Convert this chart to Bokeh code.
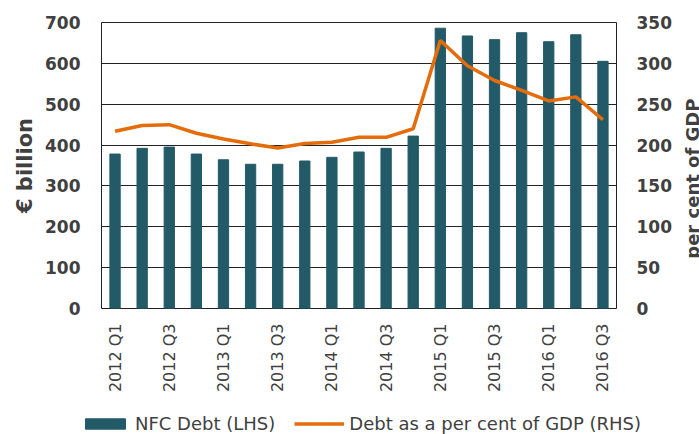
from bokeh.plotting import figure
from bokeh.layouts import row, column
from bokeh.models import Range1d, LinearAxis, Legend, LegendItem, FixedTicker, Label
from bokeh.embed import file_html
from bokeh.resources import INLINE

quarters = ["2012 Q1", "2012 Q2", "2012 Q3", "2012 Q4",
            "2013 Q1", "2013 Q2", "2013 Q3", "2013 Q4",
            "2014 Q1", "2014 Q2", "2014 Q3", "2014 Q4",
            "2015 Q1", "2015 Q2", "2015 Q3", "2015 Q4",
            "2016 Q1", "2016 Q2", "2016 Q3"]
nfc_debt = [378, 392, 395, 378, 364, 353, 353, 361, 370, 383, 392, 422,
            686, 667, 658, 675, 653, 670, 605]
debt_pct_gdp = [217, 224, 225, 214.5, 207.5, 201.5, 196.5, 202, 203.5, 209.5,
                209.5, 220, 328, 297, 279, 267, 254, 259, 231]
left_label = "€ billion"
right_label = "per cent of  GDP"
series_names = ["NFC Debt (LHS)", "Debt as a per cent of GDP (RHS)"]

x = list(range(len(quarters)))
FONT = "DejaVu Sans"
TXT = "#404040"
BAR = "#235A68"
LINE = "#E46C0A"


def style_axis(ax, size, bold, standoff):
    ax.major_label_text_font = FONT
    ax.major_label_text_font_size = size
    ax.major_label_text_font_style = "bold" if bold else "normal"
    ax.major_label_text_color = TXT
    ax.major_label_standoff = standoff
    ax.axis_line_color = None
    ax.major_tick_line_color = None
    ax.minor_tick_line_color = None
    ax.major_tick_out = 0
    ax.major_tick_in = 0
    ax.minor_tick_out = 0
    ax.minor_tick_in = 0


# ---------------- main chart ----------------
p = figure(width=675, height=400, output_backend="svg", toolbar_location=None,
           x_range=Range1d(-0.5, len(quarters) - 0.5), y_range=Range1d(0, 700),
           min_border_left=101, min_border_right=59, min_border_top=22,
           min_border_bottom=92)
p.extra_y_ranges = {"rhs": Range1d(0, 350)}

bars = p.vbar(x=x, top=nfc_debt, width=0.38, color=BAR)
line = p.line(x=x, y=debt_pct_gdp, y_range_name="rhs", color=LINE, line_width=3.5)

p.outline_line_color = "#222222"
p.outline_line_width = 1
p.xgrid.grid_line_color = None
p.ygrid.grid_line_color = "#222222"
p.ygrid.grid_line_width = 1
p.ygrid.ticker = FixedTicker(ticks=list(range(0, 701, 100)))

xa = p.xaxis[0]
xa.ticker = FixedTicker(ticks=x[::2])
xa.major_label_overrides = {i: quarters[i] for i in x}
xa.major_label_orientation = 1.5708
style_axis(xa, "16px", False, 15)

ya = p.yaxis[0]
ya.ticker = FixedTicker(ticks=list(range(0, 701, 100)))
style_axis(ya, "17px", True, 21)
ya.axis_label = left_label
ya.axis_label_text_font = FONT
ya.axis_label_text_font_size = "21px"
ya.axis_label_text_font_style = "bold"
ya.axis_label_text_color = TXT
ya.axis_label_standoff = 5

ra = LinearAxis(y_range_name="rhs", ticker=FixedTicker(ticks=list(range(0, 351, 50))))
style_axis(ra, "17px", True, 20)
ra.axis_label_standoff = 0
p.add_layout(ra, "right")

# ---------------- right-hand axis title ----------------
plab = figure(width=24, height=400, output_backend="svg", toolbar_location=None,
              x_range=Range1d(0, 24), y_range=Range1d(0, 286),
              x_axis_location=None, y_axis_location=None,
              min_border=0, outline_line_color=None)
plab.grid.grid_line_color = None
plab.add_layout(Label(text=right_label, x=17, y=133, angle=1.5708,
                      text_align="center", text_baseline="alphabetic",
                      text_font=FONT, text_font_size="18px", text_font_style="bold",
                      text_color=TXT))

# ---------------- legend strip ----------------
pleg = figure(width=699, height=34, output_backend="svg", toolbar_location=None,
              x_range=Range1d(1000, 1699), y_range=Range1d(1000, 1034),
              x_axis_location=None, y_axis_location=None,
              min_border=0, outline_line_color=None)
pleg.grid.grid_line_color = None
lb = pleg.vbar(x=x, top=nfc_debt, width=0.38, color=BAR)
ll = pleg.line(x=x, y=debt_pct_gdp, color=LINE, line_width=3.5)
legend = Legend(items=[LegendItem(label=series_names[0], renderers=[lb]),
                       LegendItem(label=series_names[1], renderers=[ll])],
                orientation="horizontal", location=(80, 0),
                glyph_width=50, glyph_height=13, label_standoff=5, spacing=19,
                label_text_font=FONT, label_text_font_size="18px",
                label_text_color=TXT, border_line_color=None,
                background_fill_alpha=0, padding=0, margin=0)
pleg.add_layout(legend)

layout = column(row(p, plab, spacing=0), pleg, spacing=0)
open("out.html", "w").write(file_html(layout, INLINE))
